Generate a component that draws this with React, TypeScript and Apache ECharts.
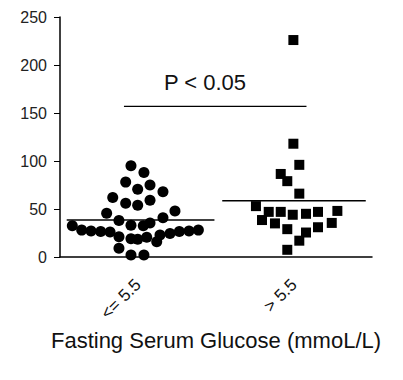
import React, { useEffect, useRef } from "react";
import * as echarts from "echarts";

const categories = ["<= 5.5", "> 5.5"];
const yTicks = [0, 50, 100, 150, 200, 250];

// [x position on 0..2 scale (category centres at 0.5 and 1.5), fasting value]
const lowGroup: [number, number][] = [
  [0.455, 95], [0.538, 88], [0.421, 78], [0.577, 75], [0.498, 70.5], [0.66, 68],
  [0.338, 62], [0.421, 56], [0.498, 54], [0.577, 59], [0.737, 48], [0.299, 45.5],
  [0.66, 41], [0.378, 38], [0.455, 33], [0.534, 32.5], [0.577, 35.5], [0.079, 32.5],
  [0.139, 28], [0.199, 27], [0.261, 26.5], [0.321, 26], [0.378, 21], [0.455, 19],
  [0.498, 18.5], [0.556, 20.5], [0.62, 16], [0.641, 23], [0.705, 24.5], [0.765, 26.5],
  [0.827, 27], [0.887, 28], [0.378, 9], [0.455, 2], [0.538, 2],
];
const highGroup: [number, number][] = [
  [1.496, 226], [1.496, 118], [1.534, 96], [1.415, 86.5], [1.457, 79], [1.534, 66],
  [1.256, 53], [1.338, 47], [1.415, 47], [1.492, 44], [1.577, 45], [1.654, 47],
  [1.778, 48], [1.295, 38.5], [1.378, 35], [1.457, 29], [1.577, 25.5], [1.654, 31],
  [1.742, 35.5], [1.534, 17], [1.457, 7.5],
];
const lowMean = 38.5;
const highMean = 58.5;
const lowMeanSpan = [0.043, 0.99];
const highMeanSpan = [1.04, 1.96];
const sigLevel = 157;
const sigSpan = [0.41, 1.58];
const sigText = "P < 0.05";
const axisTitle = "Fasting Serum Glucose (mmoL/L)";

const FONT = "'Liberation Sans', Arial, sans-serif";

export default function App() {
  const ref = useRef<HTMLDivElement>(null);
  useEffect(() => {
    if (!ref.current) return;
    const chart = echarts.init(ref.current, null, { renderer: "svg" });
    chart.setOption({
      animation: false,
      backgroundColor: "#fff",
      grid: { left: 60, right: 31, top: 17, bottom: 123 },
      xAxis: [
        {
          type: "category",
          data: categories,
          boundaryGap: true,
          axisLine: { lineStyle: { color: "#000", width: 1.5 } },
          axisTick: { alignWithLabel: true, length: 6, lineStyle: { color: "#000", width: 1 } },
          axisLabel: {
            rotate: 45,
            margin: 25,
            fontSize: 17,
            color: "#111",
            fontFamily: FONT,
          },
          name: axisTitle,
          nameLocation: "middle",
          nameGap: 70,
          nameTextStyle: { fontSize: 22, color: "#111", fontFamily: FONT },
        },
        {
          type: "value",
          min: 0,
          max: 2,
          show: false,
        },
      ],
      yAxis: {
        type: "value",
        min: 0,
        max: 250,
        interval: 50,
        splitLine: { show: false },
        axisLine: { show: true, lineStyle: { color: "#000", width: 1.5 } },
        axisTick: { show: true, length: 6, lineStyle: { color: "#000" } },
        axisLabel: {
          margin: 13,
          fontSize: 16,
          color: "#222",
          fontFamily: FONT,
          formatter: (v: number) => (yTicks.includes(v) ? String(v) : ""),
        },
      },
      series: [
        {
          type: "scatter",
          xAxisIndex: 1,
          data: lowGroup,
          symbol: "circle",
          symbolSize: 11,
          itemStyle: { color: "#000", opacity: 1 },
        },
        {
          type: "scatter",
          xAxisIndex: 1,
          data: highGroup,
          symbol: "rect",
          symbolSize: 10,
          itemStyle: { color: "#000", opacity: 1 },
        },
        {
          type: "line",
          xAxisIndex: 1,
          data: [[lowMeanSpan[0], lowMean], [lowMeanSpan[1], lowMean]],
          symbol: "none",
          lineStyle: { color: "#000", width: 1.5 },
        },
        {
          type: "line",
          xAxisIndex: 1,
          data: [[highMeanSpan[0], highMean], [highMeanSpan[1], highMean]],
          symbol: "none",
          lineStyle: { color: "#000", width: 1.5 },
        },
        {
          type: "line",
          xAxisIndex: 1,
          data: [[sigSpan[0], sigLevel], [sigSpan[1], sigLevel]],
          symbol: "none",
          lineStyle: { color: "#000", width: 1.2 },
        },
      ],
      graphic: [
        {
          type: "text",
          x: 205,
          y: 82,
          style: {
            text: sigText,
            fontSize: 22,
            fill: "#111",
            fontFamily: FONT,
            align: "center",
            verticalAlign: "middle",
          },
        },
      ],
    });
    return () => chart.dispose();
  }, []);
  return <div ref={ref} style={{ width: 403, height: 380, position: "absolute", left: 0, top: 0 }} />;
}
